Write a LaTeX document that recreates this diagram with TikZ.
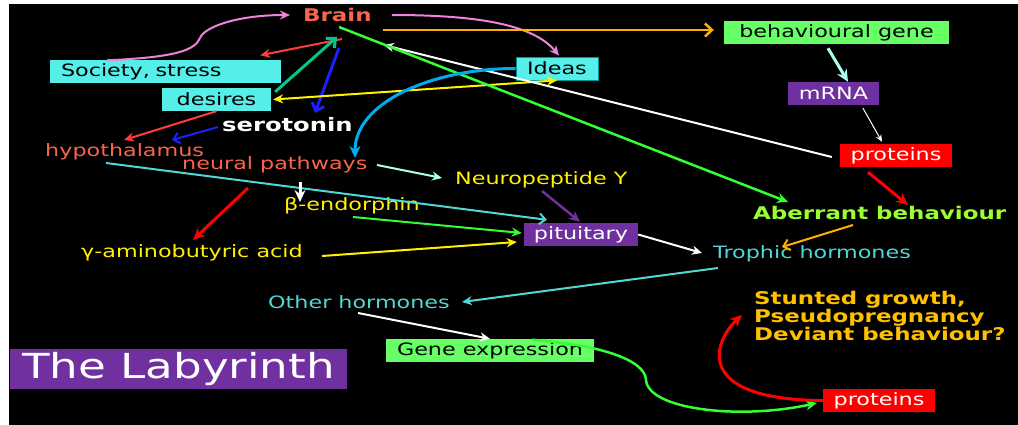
\documentclass[tikz,border=0pt]{standalone}
\usepackage{fontspec}
\setmainfont{DejaVu Sans}[FakeStretch=1.31]
\usetikzlibrary{arrows.meta,calc}
\definecolor{cSal}{RGB}{250,100,75}
\definecolor{cCyan}{RGB}{85,238,232}
\definecolor{cTeal}{RGB}{0,150,150}
\definecolor{cGreen}{RGB}{102,255,102}
\definecolor{cPurple}{RGB}{112,48,160}
\definecolor{cHorm}{RGB}{80,215,215}
\definecolor{cAb}{RGB}{153,255,51}
\definecolor{cGold}{RGB}{255,192,0}
\definecolor{cOrange}{RGB}{255,176,0}
\definecolor{cPink}{RGB}{240,130,220}
\definecolor{cLime}{RGB}{51,255,51}
\definecolor{cSea}{RGB}{0,200,140}
\definecolor{cBlue}{RGB}{30,30,255}
\definecolor{cSky}{RGB}{0,170,238}
\definecolor{cMint}{RGB}{170,255,238}
\definecolor{cRed}{RGB}{255,60,60}
\begin{document}
\begin{tikzpicture}[x=1pt,y=-1pt,
  tx/.style={inner sep=0pt, anchor=base west, font=\fontsize{17}{17}\selectfont},
  bf/.style={font=\fontsize{17.5}{17.5}\selectfont\bfseries},
  bx/.style={inner sep=0pt, minimum height=23pt, font=\fontsize{17}{17}\selectfont},
  ar/.style={line width=2pt, -{Stealth[length=10pt,width=9pt]}},
  arT/.style={line width=3pt, -{Stealth[length=12pt,width=11pt]}},
  arV/.style={line width=2pt, -{Straight Barb[length=6pt,width=11pt]}},
  arVT/.style={line width=3pt, -{Straight Barb[length=7pt,width=13pt]}}]
\useasboundingbox (0,0) rectangle (1018,425);
\fill[white] (0,0) rectangle (1018,425);
\fill[black] (9,4) rectangle (1018,425);
% boxes
\node[bx, fill=cCyan, minimum width=231pt, text width=209pt, align=left] (soc) at (165.5,72) {Society, stress};
\node[bx, fill=cCyan, minimum width=109pt] (des) at (216.5,99.5) {desires};
\node[bx, fill=cCyan, draw=cTeal, line width=0.8pt, minimum width=82pt] (ideas) at (557,68.5) {Ideas};
\node[bx, fill=cGreen, minimum width=225pt] (behav) at (836.5,32.5) {behavioural gene};
\node[bx, fill=cPurple, text=white, minimum width=91pt] (mrna) at (833.5,93.5) {mRNA};
\node[bx, fill=red, text=white, minimum width=112pt] (prot1) at (896,155.5) {proteins};
\node[bx, fill=cPurple, text=white, minimum width=114pt] (pit) at (581,234.5) {pituitary};
\node[bx, fill=cGreen, minimum width=208pt] (gene) at (490,350.5) {Gene expression};
\node[bx, fill=cPurple, text=white, minimum width=337pt, minimum height=40pt, font=\fontsize{34.5}{34.5}\selectfont] (lab) at (178.5,369) {The Labyrinth};
\node[bx, fill=red, text=white, minimum width=112pt] (prot2) at (879,400.5) {proteins};
% text nodes
\node[tx, bf, text=cSal] (brain) at (303,21.5) {Brain};
\node[tx, font=\fontsize{18.5}{18.5}\selectfont\bfseries, text=white] (ser) at (222,132) {serotonin};
\node[tx, text=cSal] (hyp) at (45,157) {hypothalamus};
\node[tx, text=cSal] (neur) at (182,170) {neural pathways};
\node[tx, text=yellow] (npy) at (455,185) {Neuropeptide Y};
\node[tx, text=yellow] (beta) at (284,211) {β-endorphin};
\node[tx, text=yellow] (gaba) at (81,257) {γ-aminobutyric acid};
\node[tx, text=cHorm] (troph) at (713,258) {Trophic hormones};
\node[tx, bf, text=cAb] (aberr) at (753,219) {Aberrant behaviour};
\node[tx, text=cHorm] (other) at (268,308) {Other hormones};
\node[inner sep=0pt, anchor=north west, align=left, text=cGold, font=\fontsize{17.5}{17}\selectfont\bfseries] (stunt) at (754,291) {Stunted growth,\\Pseudopregnancy\\Deviant behaviour?};
% connectors
\draw[ar, cPink] ($(soc.north west)+(57,0)$) .. controls +(70,-3) and +(-5,12) .. ($(brain.base west)+(-103,16.5)$) .. controls +(5,-12) and +(-50,0) .. ($(brain.base west)+(-13,-6.5)$);
\draw[ar, cPink] ($(brain.base east)+(20,-6.5)$) .. controls +(90,0) and +(-25,-30) .. ($(ideas.north)+(2,-1)$);
\draw[ar, cRed] ($(brain.base west)+(39,17.5)$) -- ($(soc.north east)+(-21,-5)$);
\draw[arVT, cSea] ($(des.north east)+(4,4)$) -- ($(brain.base west)+(34,15.5)$);
\draw[arVT, cBlue] ($(brain.base west)+(36,26.5)$) -- ($(ser.base west)+(93,-19)$);
\draw[ar, cRed] (des.south) -- ($(hyp.base west)+(79,-17)$);
\draw[arV, cBlue] ($(ser.base west)+(-4,-5)$) -- ($(hyp.base west)+(127,-17)$);
\draw[line width=2pt, yellow, {Stealth[length=10pt,width=9pt]}-{Stealth[length=10pt,width=9pt]}] ($(des.east)+(2,0)$) -- (ideas.south);
\draw[line width=2.5pt, cOrange, -{Straight Barb[length=7pt,width=13pt]}] ($(brain.base east)+(11,8.5)$) -- ($(behav.west)+(-10,-2.5)$);
\draw[arT, cMint] ($(behav.south)+(-8.5,4)$) -- ($(mrna.north)+(14.5,0)$);
\draw[line width=1pt, white, -{Stealth[length=7pt,width=6pt]}] ($(mrna.south)+(29.5,3)$) -- ($(prot1.north)+(-14,-2)$);
\draw[ar, white] ($(prot1.west)+(-8,1.5)$) -- ($(brain.base east)+(12,23.5)$);
\draw[line width=2.5pt, cLime, -{Stealth[length=11pt,width=10pt]}] ($(brain.base west)+(36,5.5)$) -- ($(aberr.base west)+(35,-17)$);
\draw[arT, cSky] (ideas.west) .. controls +(-85,0) and +(0,-55) .. ($(neur.base west)+(173,-12)$);
\draw[arV, cHorm] ($(hyp.base west)+(61,6)$) -- ($(pit.north west)+(23,-3)$);
\draw[ar, cMint] ($(neur.base west)+(195,-5)$) -- ($(npy.base west)+(-13,-7)$);
\draw[arT, white] ($(neur.base west)+(118,12)$) -- ($(beta.base west)+(16,-9)$);
\draw[arT, red] ($(neur.base west)+(66,18)$) -- ($(gaba.base west)+(112,-17)$);
\draw[ar, cLime] ($(beta.base west)+(69,6)$) -- ($(pit.west)+(-2,-1.5)$);
\draw[ar, yellow] ($(gaba.base west)+(241,-1)$) -- ($(pit.west)+(-7,7.5)$);
\draw[line width=2.5pt, cPurple, -{Stealth[length=11pt,width=10pt]}] ($(npy.base west)+(87,6)$) -- ($(pit.north)+(-1,-1)$);
\draw[ar, white] (pit.east) -- ($(troph.base west)+(-11,-5)$);
\draw[arV, cOrange] ($(aberr.base west)+(100,6)$) -- ($(troph.base west)+(69,-11)$);
\draw[arT, red] ($(prot1.south)+(-28,5)$) -- ($(aberr.base west)+(155,-14)$);
\draw[ar, cHorm] ($(troph.base west)+(5,10)$) -- ($(other.base west)+(194,-6)$);
\draw[ar, white] ($(other.base west)+(90,5)$) -- (gene.north);
\draw[line width=2.5pt, cLime, -{Stealth[length=11pt,width=10pt]}] ($(gene.north)+(42,1)$) .. controls +(68,5) and +(-1,-20) .. ($(gene.north)+(156,41)$) .. controls +(2,30) and +(-77,17) .. ($(prot2.west)+(-6,2.5)$);
\draw[line width=3pt, red, -{Stealth[length=12pt,width=11pt]}] (prot2.west) .. controls +(-133,-1) and +(-27,25) .. ($(stunt.north west)+(-12,24)$);
\end{tikzpicture}
\end{document}
